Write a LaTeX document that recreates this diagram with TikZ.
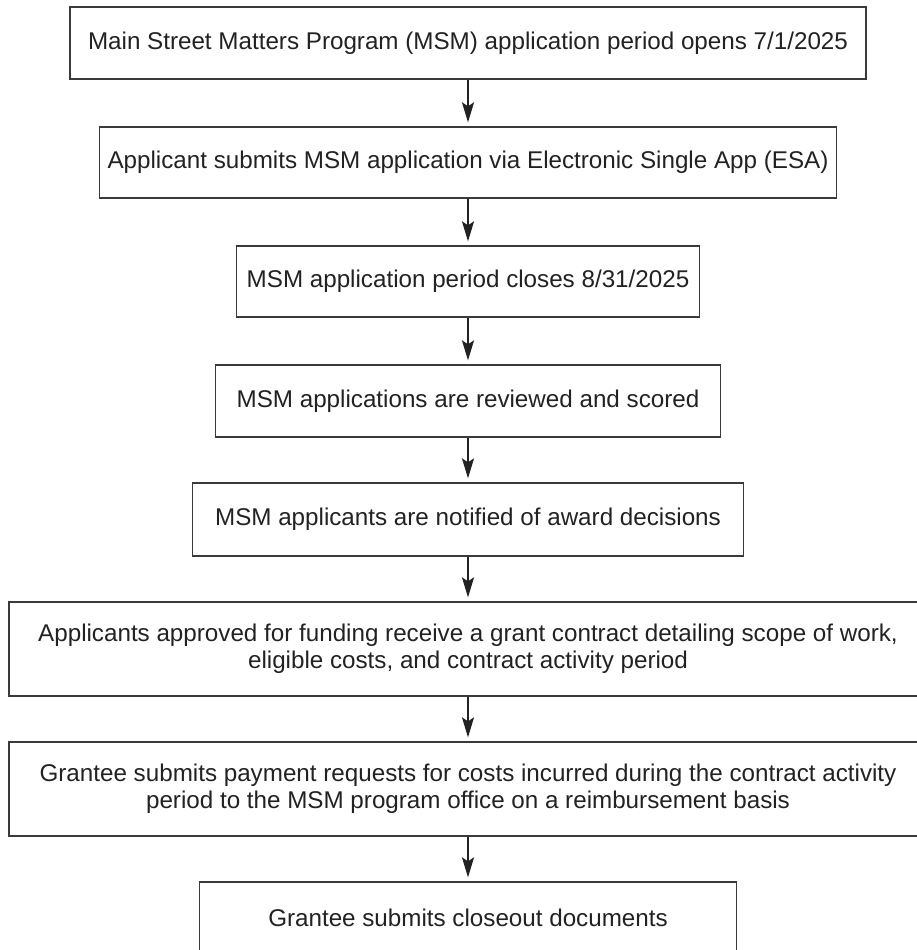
\documentclass[tikz,border=0pt]{standalone}
\usepackage{fontspec}
\setmainfont{Liberation Sans}
\usetikzlibrary{arrows.meta}
\definecolor{txt}{HTML}{222222}
\definecolor{edge}{HTML}{3A3A3A}
\tikzset{
  box/.style={draw=edge, line width=1.3pt, fill=white, inner sep=0pt, align=center,
    text=txt, font=\fontsize{24.2}{27}\selectfont},
  arr/.style={draw=txt, line width=2pt, -{Stealth[length=20pt,width=12pt,inset=4pt]}, shorten >=4pt}
}
\begin{document}
\begin{tikzpicture}[x=1pt,y=-1pt]
\useasboundingbox (0,0) rectangle (917,950);
\clip (0,0) rectangle (917,950);
\fill[white] (0,0) rectangle (917,950);
\node[box, minimum width=796pt, minimum height=72pt] (b1) at (468,43) {Main Street Matters Program (MSM) application period opens 7/1/2025};
\node[box, minimum width=737pt, minimum height=71pt] (b2) at (468,162.5) {Applicant submits MSM application via Electronic Single App (ESA)};
\node[box, minimum width=463pt, minimum height=71pt] (b3) at (468,281.5) {MSM application period closes 8/31/2025};
\node[box, minimum width=505pt, minimum height=72pt] (b4) at (468,401) {MSM applications are reviewed and scored};
\node[box, minimum width=551pt, minimum height=73pt] (b5) at (468,519.5) {MSM applicants are notified of award decisions};
\node[box, minimum width=918pt, minimum height=94pt] (b6) at (468,649) {Applicants approved for funding receive a grant contract detailing scope of work,\\eligible costs, and contract activity period};
\node[box, minimum width=918pt, minimum height=94pt] (b7) at (468,789) {Grantee submits payment requests for costs incurred during the contract activity\\period to the MSM program office on a reimbursement basis};
\node[box, minimum width=537pt, minimum height=72pt] (b8) at (468,918) {Grantee submits closeout documents};
\draw[arr] (b1) -- (b2);
\draw[arr] (b2) -- (b3);
\draw[arr] (b3) -- (b4);
\draw[arr] (b4) -- (b5);
\draw[arr] (b5) -- (b6);
\draw[arr] (b6) -- (b7);
\draw[arr] (b7) -- (b8);
\end{tikzpicture}
\end{document}
